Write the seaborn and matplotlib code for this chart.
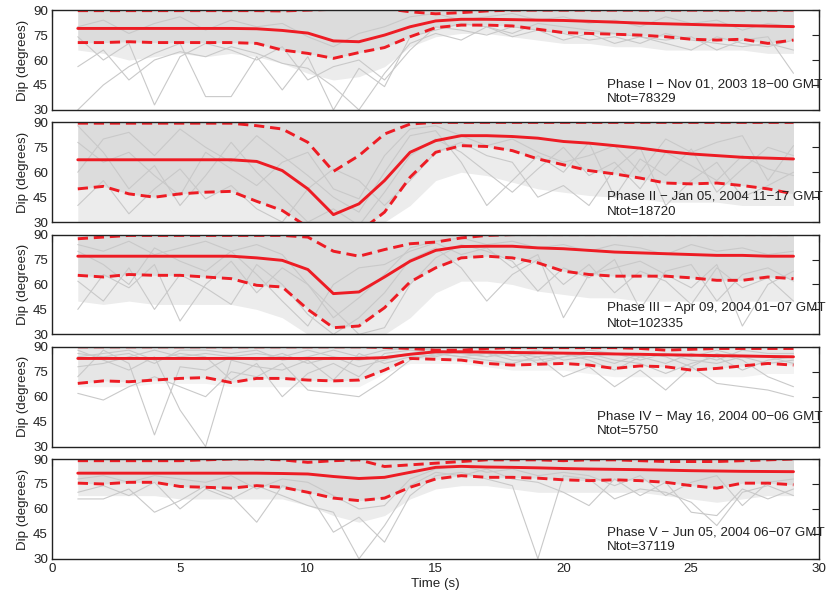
import pandas as pd
import matplotlib
matplotlib.use("Agg")
from matplotlib import pyplot as plt
import seaborn as sns

time_s = list(range(1, 30))

# Phase I
med_1 = [79, 79, 79, 79, 79, 79, 79, 78.8, 77.8, 76.2, 71.5, 71, 75, 80, 83.5, 84.5, 84.5, 84.3, 84, 83.8,
         83.3, 82.8, 82.2, 81.8, 81.4, 81, 80.7, 80.4, 80.1]
lo_1 = [70.5, 70.5, 71, 70.5, 70.5, 70.5, 70.5, 70, 66, 64, 61, 64.5, 67.5, 74, 79.5, 81, 81, 80.5, 78.5, 76.5,
        76, 75.5, 75, 74, 72.5, 72, 72.5, 70, 72]
hi_1 = [89.7, 89.7, 89.7, 89.7, 89.7, 89.7, 89.7, 89.7, 89.5, 90, 90.5, 91, 91, 89, 87.8, 88.5, 89.5, 90, 90, 90,
        90, 90, 90, 90, 90, 90, 90, 90, 90]
cloud_1 = [66, 64, 60, 62, 64, 62, 64, 62, 58, 52, 48, 50, 56, 68, 74, 76, 76, 74, 72, 70,
           70, 68, 68, 66, 66, 66, 66, 64, 64]
traces_1 = [
    [56, 66, 48, 60, 65, 62, 68, 64, 58, 55, 44, 30, 52, 70, 76, 72, 80, 74, 78, 76, 72, 74, 70, 76, 72, 70, 68, 70, 66],
    [74, 60, 70, 33, 62, 70, 66, 60, 68, 48, 56, 60, 48, 66, 80, 78, 75, 80, 78, 72, 76, 70, 74, 70, 66, 74, 70, 68, 72],
    [30, 45, 56, 64, 70, 38, 38, 62, 42, 62, 30, 55, 44, 74, 78, 82, 80, 76, 82, 80, 78, 76, 74, 72, 74, 66, 72, 74, 52],
    [80, 84, 76, 82, 86, 78, 84, 80, 82, 74, 68, 76, 80, 86, 88, 84, 86, 88, 84, 86, 82, 84, 80, 86, 82, 84, 78, 82, 80],
]

# Phase II
med_2 = [67.5, 67.5, 67.5, 67.5, 67.5, 67.5, 67.5, 66.5, 61, 50, 34.5, 41, 55, 72, 79, 82, 82, 81.5, 80.5, 78.5,
         77.5, 76, 74.5, 72.5, 71, 70, 69, 68.5, 68]
lo_2 = [50, 51.5, 47, 45, 47, 48, 48.5, 42.5, 37, 27, 20, 24, 36, 57, 72, 76, 75.5, 73, 68, 64.5,
        61, 59, 56.5, 53.5, 53, 53.5, 52, 50, 47]
hi_2 = [89.5, 89.5, 89.5, 89.5, 89.5, 89.5, 89.5, 88, 86, 78, 60.5, 70, 83, 89, 90, 90, 90, 90, 90, 90,
        90, 90, 90, 90, 90, 90, 90, 90, 90]
cloud_2 = [30, 30, 30, 30, 30, 30, 30, 30, 30, 30, 30, 30, 30, 40, 55, 60, 58, 54, 50, 48,
           46, 45, 44, 42, 42, 42, 40, 40, 40]
traces_2 = [
    [88, 72, 50, 64, 40, 58, 78, 60, 45, 30, 38, 28, 48, 70, 80, 72, 60, 48, 62, 75, 58, 66, 50, 72, 64, 55, 70, 62, 58],
    [60, 80, 84, 70, 86, 75, 66, 82, 70, 58, 45, 36, 60, 82, 85, 66, 40, 55, 70, 60, 78, 45, 68, 58, 74, 48, 62, 75, 70],
    [40, 55, 35, 50, 62, 44, 52, 38, 30, 50, 62, 55, 40, 55, 72, 78, 70, 66, 45, 52, 40, 62, 75, 40, 55, 66, 45, 52, 60],
    [78, 66, 72, 58, 46, 72, 62, 52, 66, 72, 50, 44, 70, 86, 88, 82, 76, 80, 72, 66, 70, 76, 60, 80, 72, 78, 82, 55, 76],
]

# Phase III
med_3 = [77, 77, 77, 77, 77, 77, 77, 76, 74.5, 69, 54.5, 55.5, 64.5, 74, 80.5, 82.8, 83, 83, 82, 81.5,
         80.5, 79.5, 79, 78.5, 78, 77.5, 77.5, 77, 77]
lo_3 = [65.5, 64.5, 66, 65.5, 65.5, 64.5, 63.5, 59.5, 58.5, 45, 34, 35, 46, 61.5, 70, 76, 77, 76, 73, 68,
        66, 65, 65, 65, 64, 62.5, 62.5, 64.5, 63.5]
hi_3 = [87.5, 88.5, 89.5, 89.5, 89.5, 89.5, 89.5, 89.5, 89.5, 88.5, 80, 77, 81, 84.5, 85.5, 88, 89.5, 90, 90, 90,
        90, 90, 90, 90, 90, 90, 90, 90, 90]
cloud_3 = [50, 48, 50, 48, 48, 48, 48, 45, 40, 30, 30, 30, 30, 40, 55, 62, 62, 60, 56, 54,
           52, 52, 50, 50, 50, 50, 50, 50, 50]
traces_3 = [
    [62, 50, 70, 45, 66, 58, 48, 72, 60, 42, 30, 40, 55, 75, 82, 70, 50, 66, 75, 60, 72, 55, 68, 62, 48, 70, 58, 64, 50],
    [45, 66, 58, 72, 38, 60, 74, 55, 70, 60, 45, 30, 34, 60, 76, 84, 80, 74, 56, 70, 64, 75, 45, 68, 72, 50, 66, 70, 62],
    [80, 72, 60, 82, 74, 68, 80, 66, 50, 35, 60, 70, 72, 80, 85, 78, 82, 70, 78, 40, 66, 70, 74, 66, 58, 72, 35, 60, 68],
    [84, 80, 86, 78, 82, 86, 80, 84, 78, 60, 40, 52, 66, 82, 86, 88, 84, 86, 82, 84, 80, 84, 82, 78, 84, 80, 82, 78, 80],
]

# Phase IV
med_4 = [83, 83, 83, 83, 83, 83, 83, 83, 83, 83, 83, 83, 83.5, 85.5, 87, 87, 86.8, 86.6, 86.4, 86.2,
         86, 85.7, 85.5, 85.2, 85, 84.7, 84.5, 84.2, 84]
lo_4 = [68, 69.5, 69, 70, 71, 71.5, 68.5, 71, 71, 70, 69.5, 70, 76, 83, 82.5, 82, 80, 79, 79.5, 80,
        79, 77, 78.5, 78, 76, 77, 78.5, 80, 79]
hi_4 = [90, 90, 90, 90, 90, 90, 90, 90, 90, 90, 90, 90, 89.6, 89, 88, 88, 89, 89.5, 89.5, 89.5,
        89.5, 89.5, 89, 88, 88.5, 89, 89, 89, 89]
cloud_4 = [66, 66, 66, 68, 68, 68, 66, 66, 66, 66, 66, 66, 74, 80, 80, 80, 78, 76, 76, 76,
           74, 72, 72, 72, 72, 72, 72, 74, 74]
traces_4 = [
    [62, 58, 66, 72, 66, 60, 75, 72, 80, 64, 62, 60, 70, 82, 86, 84, 82, 80, 84, 72, 78, 66, 76, 64, 78, 68, 66, 64, 60],
    [72, 88, 80, 37, 78, 76, 84, 82, 86, 80, 84, 78, 82, 86, 88, 86, 88, 84, 86, 86, 82, 76, 84, 86, 82, 80, 84, 80, 82],
    [88, 82, 76, 84, 52, 30, 82, 78, 76, 82, 70, 86, 80, 84, 85, 87, 84, 88, 80, 84, 86, 82, 80, 74, 80, 84, 76, 82, 84],
    [84, 86, 88, 82, 86, 84, 70, 80, 60, 74, 80, 72, 86, 88, 86, 84, 86, 82, 82, 84, 88, 86, 84, 80, 86, 82, 88, 86, 86],
    [78, 80, 84, 88, 84, 86, 84, 86, 84, 88, 84, 82, 84, 86, 84, 88, 86, 86, 88, 82, 84, 80, 86, 84, 78, 86, 82, 72, 66],
    [86, 84, 86, 80, 88, 88, 86, 88, 82, 84, 88, 84, 88, 89, 88, 86, 84, 86, 84, 86, 84, 86, 82, 86, 84, 88, 84, 84, 80],
]

# Phase V
med_5 = [81.5, 81.5, 81.5, 81.5, 81.5, 81.5, 81.5, 81.5, 81.3, 81, 79.5, 78.3, 79, 82, 85, 85.6, 85.2, 85, 84.7, 84.3,
         84, 83.8, 83.6, 83.3, 83, 82.8, 82.6, 82.5, 82.4]
lo_5 = [75.5, 75, 76, 76, 73.5, 73, 72.5, 74, 73, 70, 66.5, 65, 66.5, 73, 78, 80, 79, 79, 78.5, 77.5,
        77, 77.5, 77, 76, 74, 72.5, 75.5, 75.5, 74.5]
hi_5 = [89, 89, 89, 89, 89, 89.5, 90, 90, 89.5, 88, 89, 89.5, 85.5, 86.5, 87.5, 88.5, 89.5, 89.5, 89.5, 89,
        89.5, 89.5, 89, 88.5, 88.5, 88.5, 89, 89.5, 90]
cloud_5 = [68, 68, 68, 68, 66, 66, 66, 66, 66, 62, 56, 52, 56, 66, 72, 74, 74, 72, 70, 70,
           70, 70, 70, 68, 66, 64, 66, 68, 68]
traces_5 = [
    [66, 66, 72, 58, 65, 74, 68, 52, 74, 70, 46, 55, 40, 68, 80, 82, 78, 74, 30, 80, 78, 66, 72, 70, 64, 50, 70, 74, 68],
    [70, 74, 68, 76, 60, 72, 66, 74, 68, 62, 58, 30, 50, 74, 82, 80, 84, 78, 76, 70, 62, 78, 68, 76, 58, 56, 72, 66, 72],
    [78, 80, 76, 80, 78, 76, 80, 72, 78, 76, 68, 60, 62, 78, 84, 86, 82, 84, 80, 82, 80, 74, 80, 68, 76, 80, 62, 76, 78],
]

phase_labels = [
    "Phase I \u2212 Nov 01, 2003 18\u221200 GMT",
    "Phase II \u2212 Jan 05, 2004 11\u221217 GMT",
    "Phase III \u2212 Apr 09, 2004 01\u221207 GMT",
    "Phase IV \u2212 May 16, 2004 00\u221206 GMT",
    "Phase V \u2212 Jun 05, 2004 06\u221207 GMT",
]
ntot_labels = ["Ntot=78329", "Ntot=18720", "Ntot=102335", "Ntot=5750", "Ntot=37119"]

panels = [
    (med_1, lo_1, hi_1, cloud_1, traces_1),
    (med_2, lo_2, hi_2, cloud_2, traces_2),
    (med_3, lo_3, hi_3, cloud_3, traces_3),
    (med_4, lo_4, hi_4, cloud_4, traces_4),
    (med_5, lo_5, hi_5, cloud_5, traces_5),
]
# text anchor (x in s, y of the two lines in degrees)
text_pos = [(21.7, 45.4, 36.5), (21.7, 45.2, 36), (21.7, 46.1, 36.5), (21.3, 47.9, 39.6), (21.7, 45.6, 37)]

sns.set_theme(style="white")
plt.rcParams['font.family'] = ['Liberation Sans', 'DejaVu Sans']

red = "#ed1c24"
gray = "#c9c9c9"
ink = "#222222"
fs = 9.6
dash = (0, (3.5, 2))

fig, axes = plt.subplots(5, 1, figsize=(8.29, 5.97), dpi=100, sharex=True)
fig.subplots_adjust(left=0.063, right=0.988, top=0.983, bottom=0.064, hspace=0.125)

for i, (ax, (med, lo, hi, cloud, traces)) in enumerate(zip(axes, panels)):
    sparse_col = "#f3f3f3" if i == 3 else "#ececec"
    core_col = "#e6e6e6" if i == 3 else "#dcdcdc"
    ax.fill_between(time_s, cloud, 90, color=sparse_col, lw=0)
    ax.fill_between(time_s, lo, 90, color=core_col, lw=0)

    rows = []
    for k, tr in enumerate(traces):
        for t, v in zip(time_s, tr):
            rows.append({"t": t, "dip": v, "trace": k})
    df = pd.DataFrame(rows)
    sns.lineplot(data=df, x="t", y="dip", units="trace", estimator=None,
                 color=gray, lw=0.8, ax=ax, legend=False)

    sns.lineplot(x=time_s, y=hi, color=red, lw=2.1, linestyle=dash, ax=ax)
    sns.lineplot(x=time_s, y=lo, color=red, lw=2.1, linestyle=dash, ax=ax)
    sns.lineplot(x=time_s, y=med, color=red, lw=2.1, ax=ax)

    ax.set_xlim(0, 30)
    ax.set_ylim(30, 90)
    ax.set_yticks([30, 45, 60, 75, 90])
    ax.set_xticks(range(0, 31, 5))
    ax.tick_params(direction="in", top=True, right=True, length=5, width=0.8,
                   labelsize=fs, labelcolor=ink, color=ink, pad=3)
    for s in ax.spines.values():
        s.set_color(ink)
        s.set_linewidth(1.0)
    ax.set_xlabel("")
    ax.set_ylabel("Dip (degrees)", fontsize=fs, color=ink, labelpad=3)

    tx, ty1, ty2 = text_pos[i]
    ax.text(tx, ty1, phase_labels[i], fontsize=fs, color=ink, va="center", ha="left", clip_on=False)
    ax.text(tx, ty2, ntot_labels[i], fontsize=fs, color=ink, va="center", ha="left", clip_on=False)

axes[-1].set_xlabel("Time (s)", fontsize=fs, color=ink, labelpad=2)

plt.savefig("out.png", dpi=100)
